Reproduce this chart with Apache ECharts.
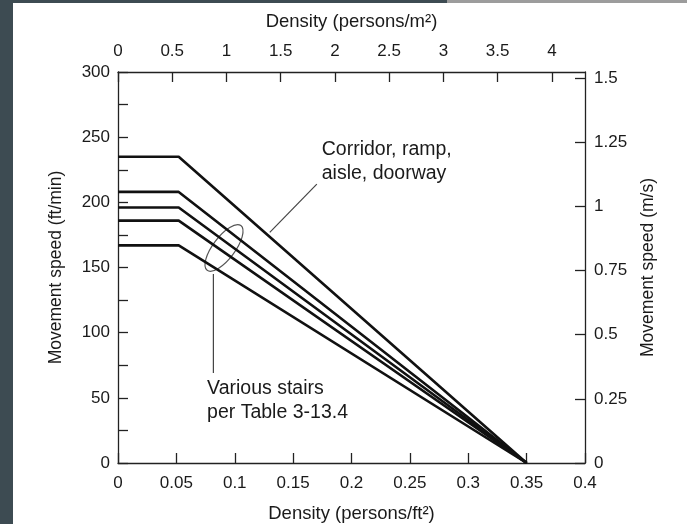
<!DOCTYPE html>
<html>
<head>
<meta charset="utf-8">
<script src="https://cdn.jsdelivr.net/npm/echarts@6/dist/echarts.min.js"></script>
<style>
html, body { margin: 0; padding: 0; background: #fff; }
#chart { width: 687px; height: 524px; }
</style>
</head>
<body>
<div id="chart"></div>
<script>
// density break points (persons/ft2): free flow up to the knee, zero speed at the end
var densityPoints = [0, 0.052, 0.35];
// maximum (free-flow) speeds in ft/min: corridor first, then the four stair types
var lineNames = ['Corridor', 'Stairs 1', 'Stairs 2', 'Stairs 3', 'Stairs 4'];
var maxSpeeds = [235, 208, 196, 186, 167];

var FT2_TO_M2 = 10.7639;   // persons/ft2 -> persons/m2
var FTMIN_TO_MS = 0.00508; // ft/min -> m/s
var font = "'Liberation Sans', Arial, sans-serif";
var ink = '#1a1a1a';

var myChart = echarts.init(document.getElementById('chart'), null, { renderer: 'canvas' });

function buildSeries() {
	var series = [];
	for (var i = 0; i < maxSpeeds.length; i++) {
		var pts = [];
		for (var j = 0; j < densityPoints.length; j++) {
			pts.push([densityPoints[j], j == densityPoints.length - 1 ? 0 : maxSpeeds[i]]);
		}
		series.push({
			name: lineNames[i],
			type: 'line',
			xAxisIndex: 0,
			yAxisIndex: 0,
			data: pts,
			symbol: 'none',
			silent: true,
			z: 3,
			lineStyle: { color: '#111', width: 2.6 }
		});
	}
	return series;
}

function fmtStep(step) {
	return function (v) {
		var r = v / step;
		return Math.abs(r - Math.round(r)) < 1e-6 ? String(+v.toFixed(3)) : '';
	};
}

var axisLine = { show: true, onZero: false, lineStyle: { color: '#222', width: 1.3 } };
var axisTick = { show: true, inside: true, length: 10, lineStyle: { color: '#222', width: 1.3 } };
var labelStyle = { color: ink, fontFamily: font, fontSize: 17 };
var xNameStyle = { color: ink, fontFamily: font, fontSize: 18.5 };
var yNameStyle = { color: ink, fontFamily: font, fontSize: 17.5 };

var option = {
	backgroundColor: '#ffffff',
	animation: false,
	grid: { left: 118, right: 102, top: 72, bottom: 61, containLabel: false, outerBoundsMode: 'none' },
	xAxis: [{
		type: 'value', position: 'bottom', min: 0, max: 0.4, interval: 0.05,
		axisLine: axisLine, axisTick: axisTick, splitLine: { show: false },
		axisLabel: Object.assign({ margin: 12, formatter: fmtStep(0.05) }, labelStyle),
		name: 'Density (persons/ft²)', nameLocation: 'middle', nameGap: 41, nameTextStyle: xNameStyle
	}, {
		type: 'value', position: 'top', min: 0, max: 0.4 * FT2_TO_M2, interval: 0.5,
		axisLine: axisLine, axisTick: axisTick, splitLine: { show: false },
		axisLabel: Object.assign({ margin: 12, formatter: fmtStep(0.5), showMaxLabel: false }, labelStyle),
		name: 'Density (persons/m²)', nameLocation: 'middle', nameGap: 41, nameTextStyle: xNameStyle
	}],
	yAxis: [{
		type: 'value', position: 'left', min: 0, max: 300, interval: 25,
		axisLine: axisLine, axisTick: axisTick, splitLine: { show: false },
		axisLabel: Object.assign({ margin: 8, formatter: fmtStep(50) }, labelStyle),
		name: 'Movement speed (ft/min)', nameLocation: 'middle', nameGap: 53, nameRotate: 90, nameTextStyle: yNameStyle
	}, {
		type: 'value', position: 'right', min: 0, max: 300 * FTMIN_TO_MS, interval: 0.25,
		axisLine: axisLine, axisTick: axisTick, splitLine: { show: false },
		axisLabel: Object.assign({ margin: 9, formatter: fmtStep(0.25), showMaxLabel: false }, labelStyle),
		name: 'Movement speed (m/s)', nameLocation: 'middle', nameGap: 54, nameRotate: 90, nameTextStyle: yNameStyle
	}],
	series: buildSeries()
};
myChart.setOption(option);

// annotations placed from data coordinates
function px(d) { return myChart.convertToPixel({ xAxisIndex: 0, yAxisIndex: 0 }, d); }
var ellC = px([0.0908, 165]);
var stairLead0 = px([0.0817, 145]);
var stairLead1 = px([0.0817, 69]);
var corrLead0 = px([0.1300, 177]);
var corrLead1 = px([0.1703, 214]);
var corrText = px([0.1745, 250]);
var stairText = px([0.0763, 66.3]);
var thin = { stroke: '#444', lineWidth: 1.2 };

myChart.setOption({
	graphic: [
		{ type: 'rect', shape: { x: 0, y: 0, width: 13, height: 524 }, style: { fill: '#3d4b52' }, silent: true },
		{ type: 'rect', shape: { x: 0, y: 0, width: 447, height: 3 }, style: { fill: '#3d4b52' }, silent: true },
		{ type: 'rect', shape: { x: 447, y: 0, width: 240, height: 3 }, style: { fill: '#9c9c9c' }, silent: true },
		{ type: 'ellipse', x: ellC[0], y: ellC[1], rotation: 53 * Math.PI / 180,
		  shape: { cx: 0, cy: 0, rx: 28, ry: 11 }, style: { fill: 'none', stroke: '#555', lineWidth: 1.2 }, z: 2 },
		{ type: 'line', shape: { x1: stairLead0[0], y1: stairLead0[1], x2: stairLead1[0], y2: stairLead1[1] }, style: thin },
		{ type: 'line', shape: { x1: corrLead0[0], y1: corrLead0[1], x2: corrLead1[0], y2: corrLead1[1] }, style: thin },
		{ type: 'text', x: corrText[0], y: corrText[1],
		  style: { text: 'Corridor, ramp,\naisle, doorway', fill: ink, font: '19.5px ' + font, lineHeight: 24 } },
		{ type: 'text', x: stairText[0], y: stairText[1],
		  style: { text: 'Various stairs\nper Table 3-13.4', fill: ink, font: '19.5px ' + font, lineHeight: 24 } }
	]
});
</script>
</body>
</html>
